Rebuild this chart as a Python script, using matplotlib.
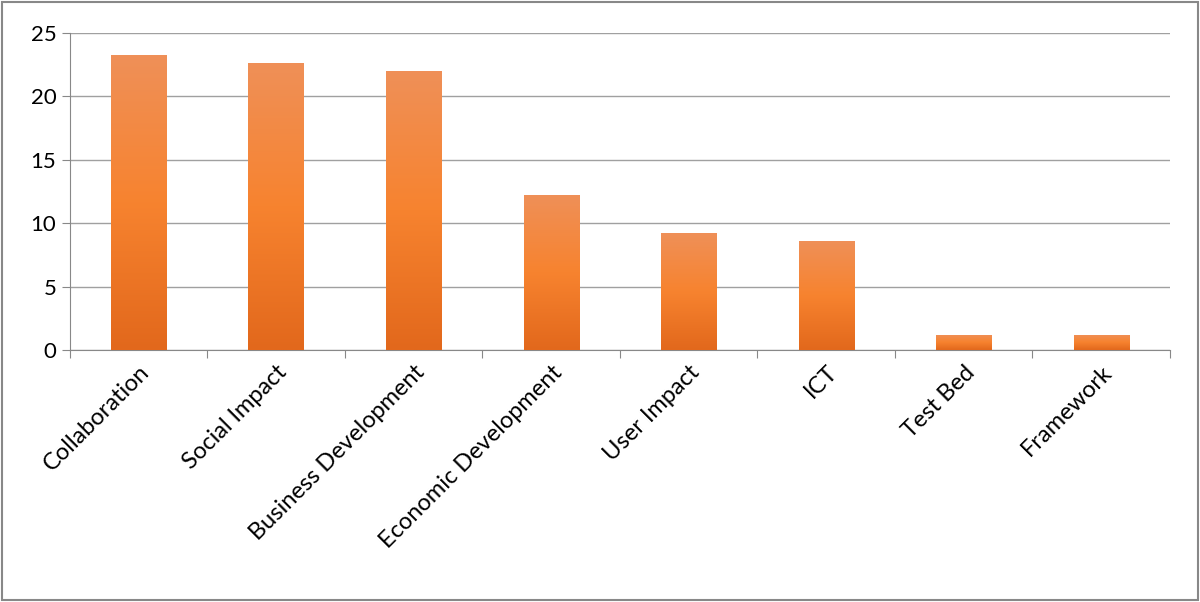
import matplotlib
matplotlib.use("Agg")
import matplotlib.pyplot as plt
import numpy as np
from matplotlib.patches import Rectangle

categories = ["Collaboration", "Social Impact", "Business Development", "Economic Development",
              "User Impact", "ICT", "Test Bed", "Framework"]
values = [23.2, 22.6, 22.0, 12.2, 9.2, 8.6, 1.2, 1.2]
y_ticks = [0, 5, 10, 15, 20, 25]

fig = plt.figure(figsize=(12, 6.02), dpi=100)
ax = fig.add_axes([0.058, 0.418, 0.917, 0.528])

x = np.arange(len(categories))
bars = ax.bar(x, values, width=0.4, color="#F47F2A", zorder=2)

# vertical gradient on each bar
grad = np.linspace(0, 1, 256).reshape(-1, 1)
cmap = matplotlib.colors.LinearSegmentedColormap.from_list(
    "og", ["#E2681C", "#F7832F", "#EF9058"])
for b in bars:
    bx, bw, bh = b.get_x(), b.get_width(), b.get_height()
    im = ax.imshow(grad, extent=[bx, bx + bw, 0, bh], origin="lower",
                   aspect="auto", cmap=cmap, zorder=3)
    im.set_clip_path(b)

ax.set_xlim(-0.5, len(categories) - 0.5)
ax.set_ylim(0, 25)
ax.set_yticks(y_ticks)
ax.set_yticklabels([str(v) for v in y_ticks], fontsize=16, family="Lato")
ax.yaxis.grid(True, color="#A0A0A0", linewidth=1, zorder=0)
ax.set_axisbelow(True)

ax.set_xticks(np.arange(-0.5, len(categories), 1.0))
ax.set_xticklabels([])
ax.set_xticks(x, minor=True)
ax.set_xticklabels(categories, minor=True, rotation=45, ha="right",
                   rotation_mode="anchor", fontsize=17, family="Lato")
ax.tick_params(axis="x", which="minor", length=0, pad=8)
ax.tick_params(axis="x", which="major", length=6, color="#888888")
ax.tick_params(axis="y", length=6, color="#888888")

for s in ["top", "right"]:
    ax.spines[s].set_visible(False)
for s in ["left", "bottom"]:
    ax.spines[s].set_color("#888888")

fig.patches.append(Rectangle((0.002, 0.003), 0.996, 0.994, transform=fig.transFigure,
                             fill=False, edgecolor="#888888", linewidth=1.5))

fig.savefig("out.png", dpi=100)
